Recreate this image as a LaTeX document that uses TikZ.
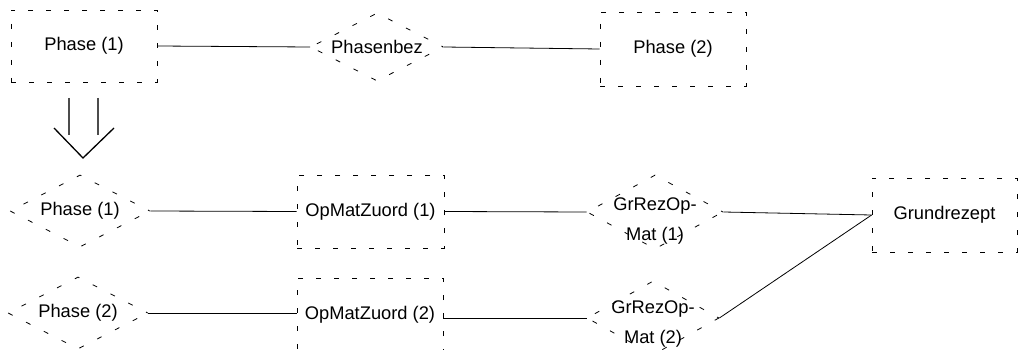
\documentclass[tikz,border=0pt]{standalone}
\usepackage{fontspec}
\setmainfont{Liberation Sans}
\usetikzlibrary{shapes.geometric}
\begin{document}
\begin{tikzpicture}[x=1pt,y=-1pt,
  every node/.style={font=\fontsize{18.3}{29.5}\selectfont},
  ent/.style={draw, rectangle, line width=0.8pt, dash pattern=on 5pt off 13pt, inner sep=0pt},
  rel/.style={draw, diamond, line width=0.8pt, dash pattern=on 5pt off 15pt, dash phase=3pt, inner sep=0pt},
  conn/.style={line width=0.8pt},
  dbl/.style={line width=1.3pt}
]
\clip (0,0) rectangle (1020,350);
\useasboundingbox (0,0) rectangle (1020,350);

% top row
\node[ent, minimum width=146pt, minimum height=72pt] (p1) at (84,46) {Phase (1)};
\node[rel, minimum width=133pt, minimum height=68pt] (pb) at (377,47) {};
\node (pbl) at (pb.center) {Phasenbez};
\node[ent, minimum width=146pt, minimum height=74pt] (p2) at (673,49) {Phase (2)};
\draw[conn] (p1.east) -- (pb.west);
\draw[conn] (pb.east) -- (p2.west);

% derivation arrow
\coordinate (a1) at (69,98);
\coordinate (a2) at (98,98);
\coordinate (a1e) at (69,135);
\coordinate (a2e) at (98,135);
\coordinate (hl) at (54,128);
\coordinate (hb) at (83,158);
\coordinate (hr) at (114,128);
\draw[dbl, black!70] (a1) -- (a1e);
\draw[dbl, black!70] (a2) -- (a2e);
\draw[dbl] (hl) -- (hb) -- (hr);

% second row
\node[rel, minimum width=140pt, minimum height=72pt] (d1) at (80,211) {};
\node (d1l) at (d1.center) {Phase (1)};
\node[ent, minimum width=147pt, minimum height=73pt] (o1) at (370.5,211.5) {OpMatZuord (1)};
\node[rel, minimum width=136pt, minimum height=74pt] (g1) at (655,212) {};
\node[align=center] (g1l) at ([yshift=-9pt]g1.center) {GrRezOp-\\Mat (1)};
\node[ent, minimum width=145pt, minimum height=74pt] (gr) at (944.5,215) {Grundrezept};
\draw[conn] (d1.east) -- (o1.west);
\draw[conn] (o1.east) -- (g1.west);
\draw[conn] (g1.east) -- (gr.west);

% third row
\node[rel, minimum width=140pt, minimum height=72pt] (d2) at (78,313) {};
\node (d2l) at (d2.center) {Phase (2)};
\node[ent, minimum width=146pt, minimum height=74pt] (o2) at (370,315) {OpMatZuord (2)};
\node[rel, minimum width=132pt, minimum height=74pt] (g2) at (653,318) {};
\node[align=center] (g2l) at ([yshift=-6pt]g2.center) {GrRezOp-\\Mat (2)};
\draw[conn] (d2.east) -- (d2.east -| o2.west);
\draw[conn] (o2.east |- g2.west) -- (g2.west);
\draw[conn] (g2.east) -- (gr.west);
\end{tikzpicture}
\end{document}
